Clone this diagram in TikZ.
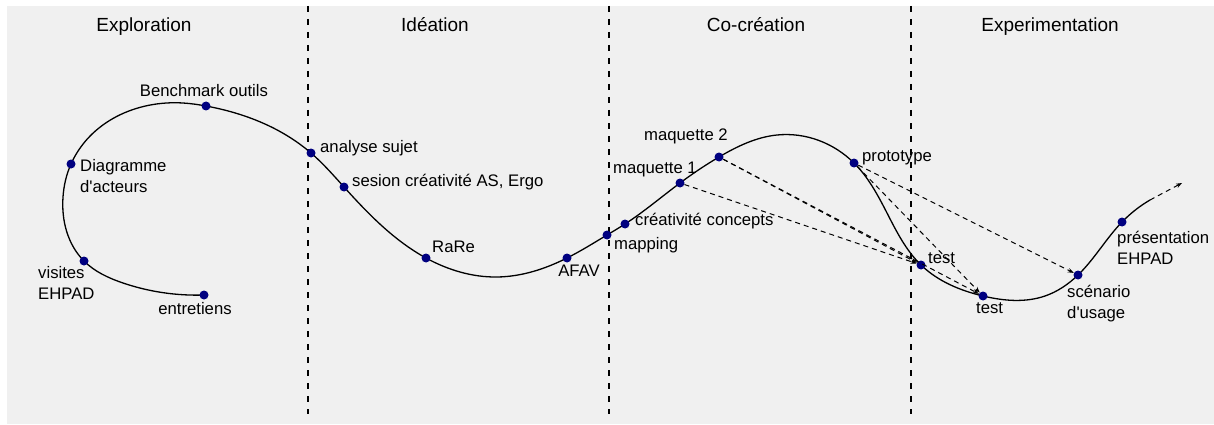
\documentclass[tikz,border=0pt]{standalone}
\usepackage{fontspec}
\setmainfont{Liberation Sans}[Ligatures=TeXOff]
\usetikzlibrary{arrows.meta,hobby}
\definecolor{bg}{HTML}{F0F0F0}
\definecolor{dotc}{HTML}{000080}
\begin{document}
\begin{tikzpicture}[x=1pt,y=-1pt,
  dot/.style={circle,fill=dotc,inner sep=0pt,minimum size=9pt},
  lbl/.style={inner sep=0pt,font=\fontsize{16.7}{21}\selectfont,align=left},
  ttl/.style={inner sep=0pt,font=\fontsize{19}{23}\selectfont},
  phase/.style={line width=1.3pt,dash pattern=on 6pt off 7pt},
  link/.style={line width=1pt,dash pattern=on 5pt off 4pt,-{Stealth[length=6pt,width=4.5pt]}},
  curve/.style={line width=1.3pt}]
\useasboundingbox (0,0) rectangle (1214,425);
\fill[bg] (7,6) rectangle (1214,424);
% phase dividers
\draw[phase] (308,6) -- (308,414);
\draw[phase] (609,6) -- (609,414);
\draw[phase] (911,6) -- (911,414);
% titles
\node[ttl,anchor=base] (t1) at (144,32) {Exploration};
\node[ttl,anchor=base] (t2) at (435,32) {Idéation};
\node[ttl,anchor=base] (t3) at (756,32) {Co-création};
\node[ttl,anchor=base] (t4) at (1050,32) {Experimentation};
% main curve
\draw[curve,use Hobby shortcut] (204,295) .. (123,283) .. (84,261) .. (63,197)
 .. (71,164) .. (183,103) .. (206,106) .. (311,153) .. (344,187) .. (426,258)
 .. (497,277) .. (567,258) .. (607,235) .. (625,224) .. (680,183) .. (719,157)
 .. (777,135) .. (854,163) .. (887,213) .. (921,265) .. (983,296) .. (1045,296)
 .. (1078,275) .. (1122,222) .. (1150,200);
\coordinate (endc) at (1150,200);
\coordinate (tip) at (1182,183);
\draw[link] (endc) -- (tip);
% dots
\node[dot] (entr) at (204,295) {};
\node[dot] (vis) at (84,261) {};
\node[dot] (diag) at (71,164) {};
\node[dot] (bench) at (206,106) {};
\node[dot] (anal) at (311,153) {};
\node[dot] (ses) at (344,187) {};
\node[dot] (rare) at (426,258) {};
\node[dot] (afav) at (567,258) {};
\node[dot] (map) at (607,235) {};
\node[dot] (crea) at (625,224) {};
\node[dot] (maq1) at (680,183) {};
\node[dot] (maq2) at (719,157) {};
\node[dot] (proto) at (854,163) {};
\node[dot] (test1) at (921,265) {};
\node[dot] (test2) at (983,296) {};
\node[dot] (scen) at (1078,275) {};
\node[dot] (pres) at (1122,222) {};
% dashed links
\draw[link] (maq1) -- (test1);
\draw[link] (maq2) -- (test1);
\draw[link] (maq2) -- (test2);
\draw[link] (proto) -- (test2);
\draw[link] (proto) -- (scen);
% labels
\node[lbl,anchor=base] (lbench) at (204,96) {Benchmark outils};
\node[lbl,anchor=base west] (ldiag) at (80,192) {Diagramme\\d'acteurs};
\node[lbl,anchor=base west] (lvis) at (38,299) {visites\\EHPAD};
\node[lbl,anchor=base] (lentr) at (195,314) {entretiens};
\node[lbl,anchor=base west] (lanal) at (320,152) {analyse sujet};
\node[lbl,anchor=base west] (lses) at (352,186) {sesion créativité AS, Ergo};
\node[lbl,anchor=base west] (lrare) at (432,252) {RaRe};
\node[lbl,anchor=base] (lafav) at (579,276) {AFAV};
\node[lbl,anchor=base west] (lmap) at (614,249) {mapping};
\node[lbl,anchor=base west] (lcrea) at (635,225) {créativité concepts};
\node[lbl,anchor=base west] (lmaq1) at (613,173) {maquette 1};
\node[lbl,anchor=base west] (lmaq2) at (644,140) {maquette 2};
\node[lbl,anchor=base west] (lproto) at (862,161) {prototype};
\node[lbl,anchor=base west] (ltest1) at (928,263) {test};
\node[lbl,anchor=base west] (ltest2) at (976,313) {test};
\node[lbl,anchor=base west] (lscen) at (1067,318) {scénario\\d'usage};
\node[lbl,anchor=base west] (lpres) at (1117,264) {présentation\\EHPAD};
\end{tikzpicture}
\end{document}
